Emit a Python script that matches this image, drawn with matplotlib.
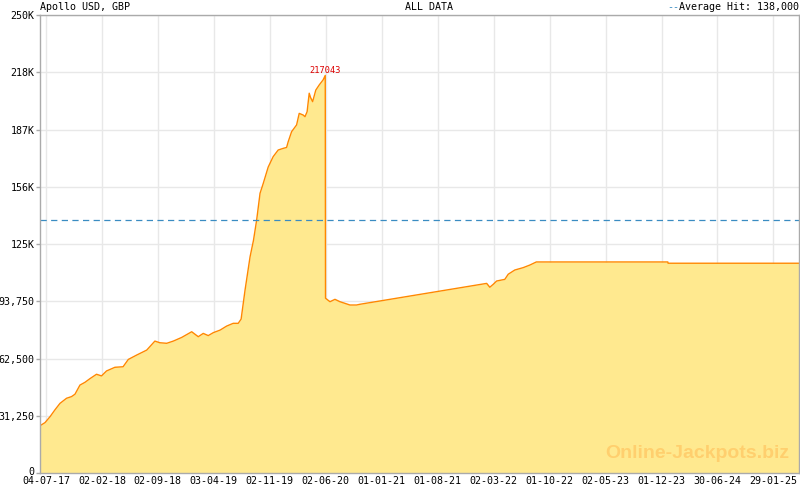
import matplotlib
matplotlib.use("Agg")
import matplotlib.pyplot as plt
import matplotlib.dates as mdates
import matplotlib.transforms as mtransforms
import numpy as np
import pandas as pd

# Jackpot history
dates = [
    "2017-06-11", "2017-06-30", "2017-07-19", "2017-08-07", "2017-08-26",
    "2017-09-20", "2017-10-09", "2017-10-22", "2017-11-10", "2017-11-29",
    "2017-12-18", "2018-01-12", "2018-01-31", "2018-02-19", "2018-03-23",
    "2018-04-23", "2018-05-13", "2018-06-14", "2018-07-22", "2018-08-22",
    "2018-09-10", "2018-10-06", "2018-10-31", "2018-12-02", "2019-01-09",
    "2019-02-03", "2019-02-22", "2019-03-13", "2019-04-01", "2019-04-27",
    "2019-05-22", "2019-06-16", "2019-07-05", "2019-07-16", "2019-07-31",
    "2019-08-19", "2019-09-01", "2019-09-13", "2019-09-26", "2019-10-08",
    "2019-10-27", "2019-11-15", "2019-12-04", "2019-12-23", "2020-01-05",
    "2020-01-11", "2020-01-24", "2020-02-12", "2020-02-22", "2020-03-08",
    "2020-03-15", "2020-03-23", "2020-03-31", "2020-04-05", "2020-04-13",
    "2020-04-25", "2020-05-08", "2020-05-23", "2020-05-31", "2020-06-01",
    "2020-06-18", "2020-07-07", "2020-07-26", "2020-09-02", "2020-09-27",
    "2020-10-10", "2022-02-04", "2022-02-16", "2022-03-01", "2022-03-14",
    "2022-04-14", "2022-04-27", "2022-05-22", "2022-06-23", "2022-07-18",
    "2022-08-12", "2023-12-25", "2023-12-26", "2025-05-07",
]
values = [
    25800, 27500, 30700, 34500, 38000,
    40800, 41700, 43000, 48000, 49500,
    51500, 53900, 53000, 55700, 57700,
    58000, 62000, 64400, 67100, 72000,
    71100, 70800, 72000, 74000, 77100,
    74400, 76200, 75000, 76600, 78000,
    80200, 81700, 81700, 84000, 99900,
    118000, 127000, 138000, 152700, 158000,
    167000, 172700, 176300, 177200, 177700,
    180800, 186300, 190000, 196300, 195400,
    194500, 197200, 207300, 205000, 202700,
    209000, 211800, 214600, 217043, 95400,
    93500, 94800, 93500, 91700, 91700,
    92100, 103500, 101400, 103000, 104800,
    105700, 108500, 110800, 112100, 113500,
    115200, 115200, 114500, 114500,
]
average_hit = 138000
peak_value = 217043
peak_date = "2020-05-31"

tick_dates = ["2017-07-04", "2018-02-02", "2018-09-02", "2019-04-03",
              "2019-11-02", "2020-06-02", "2021-01-01", "2021-08-01",
              "2022-03-02", "2022-10-01", "2023-05-02", "2023-12-01",
              "2024-06-30", "2025-01-29"]
tick_labels = ["04-07-17", "02-02-18", "02-09-18", "03-04-19", "02-11-19",
               "02-06-20", "01-01-21", "01-08-21", "02-03-22", "01-10-22",
               "02-05-23", "01-12-23", "30-06-24", "29-01-25"]
y_ticks = [0, 31250, 62500, 93750, 125000, 156250, 187500, 218750, 250000]
y_labels = ["0", "31,250", "62,500", "93,750", "125K", "156K", "187K",
            "218K", "250K"]

x = mdates.date2num(pd.to_datetime(dates))
xt = mdates.date2num(pd.to_datetime(tick_dates))

mono = "DejaVu Sans Mono"
fs = 7.2
grey = "#aaaaaa"
blue = "#3a8cc2"

fig = plt.figure(figsize=(8, 4.9), dpi=100)
ax = fig.add_axes([40 / 800, 1 - 473 / 490, 759 / 800, 458 / 490])

ax.fill_between(x, values, 0, color="#ffe98f", lw=0, zorder=2)
ax.plot(x, values, color="#ff8800", lw=1.0, zorder=3)
ax.axhline(average_hit, color=blue, lw=0.9, ls=(0, (5, 3.5)), zorder=4)

ax.text(mdates.date2num(pd.Timestamp(peak_date)), peak_value + 300,
        f"{peak_value}", color="#dd0000", fontsize=6.2, family=mono,
        ha="center", va="bottom", zorder=5)

ax.set_xlim(x[0], x[-1])
ax.set_ylim(0, 250000)

ax.set_xticks(xt)
ax.set_xticklabels(tick_labels, family=mono, fontsize=fs)
minor = []
for a, b in zip(xt[:-1], xt[1:]):
    minor.extend(np.linspace(a, b, 8)[1:-1])
step = (xt[1] - xt[0]) / 7
k = xt[0] - step
while k > x[0]:
    minor.append(k)
    k -= step
k = xt[-1] + step
while k < x[-1]:
    minor.append(k)
    k += step
ax.set_xticks(minor, minor=True)
ax.tick_params(axis="x", which="major", direction="in", length=6, width=1,
               color=grey, pad=2)
ax.tick_params(axis="x", which="minor", direction="in", length=3, width=1,
               color=grey)

ax.set_yticks(y_ticks)
ax.set_yticklabels(y_labels, family=mono, fontsize=fs)
ax.tick_params(axis="y", direction="out", length=3, width=1, color=grey, pad=1)
# nudge the "0" label up a little so it clears the first date label
zero_lbl = ax.get_yticklabels()[0]
zero_lbl.set_transform(zero_lbl.get_transform() +
                       mtransforms.ScaledTranslation(0, 2 / 100, fig.dpi_scale_trans))

ax.grid(True, which="major", color="#e8e8e8", lw=1, zorder=0)
ax.set_axisbelow(True)
for s in ax.spines.values():
    s.set_color(grey)
    s.set_linewidth(1)
    s.set_zorder(6)

# header texts
fig.text(40 / 800, 1 - 7 / 490, "Apollo USD, GBP", family=mono, fontsize=fs,
         ha="left", va="center")
fig.text(429 / 800, 1 - 7 / 490, "ALL DATA", family=mono, fontsize=fs,
         ha="center", va="center")
fig.text(799 / 800, 1 - 7 / 490, "Average Hit: 138,000", family=mono,
         fontsize=fs, ha="right", va="center")
fig.text(679 / 800, 1 - 7 / 490, "--", family=mono, fontsize=fs,
         color=blue, ha="right", va="center")

# watermark
ax.text(0.987, 0.025, "Online-Jackpots.biz", transform=ax.transAxes,
        family="Liberation Sans", fontweight="bold", fontsize=14,
        color="#ffcf6e", ha="right", va="bottom", zorder=4)

fig.savefig("out.png", dpi=100)
